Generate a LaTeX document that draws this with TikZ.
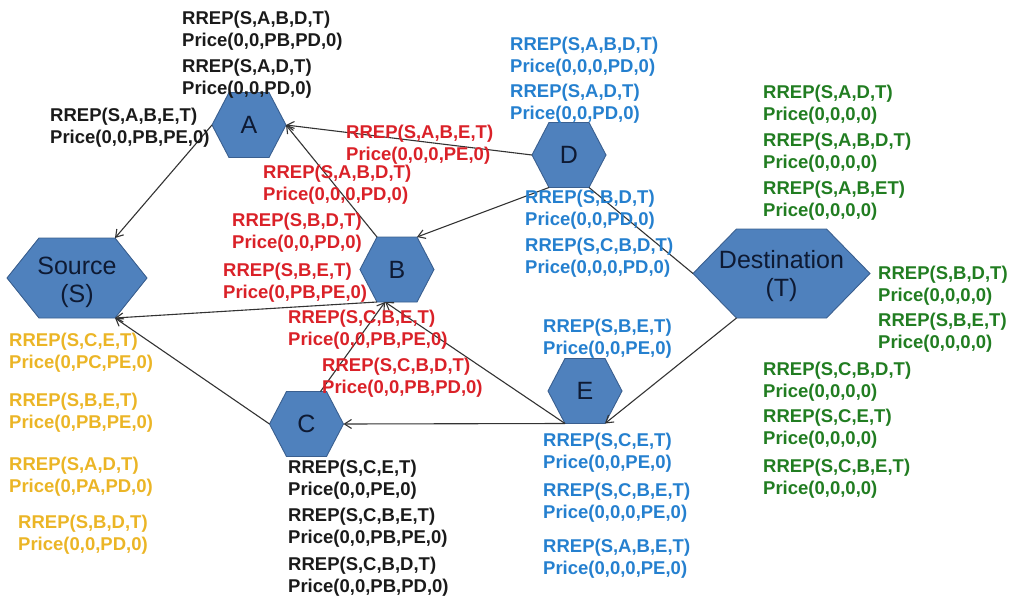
\documentclass[tikz,border=0pt]{standalone}
\usepackage{fontspec}
\setmainfont{Liberation Sans}
\usetikzlibrary{arrows.meta,calc}
\definecolor{hexblue}{HTML}{4F81BD}
\definecolor{hexedge}{HTML}{3A5F8F}
\definecolor{hexink}{HTML}{0E1A33}
\definecolor{msgblack}{HTML}{1A1A1A}
\definecolor{msgblue}{HTML}{2580CF}
\definecolor{msgred}{HTML}{DA2128}
\definecolor{msggold}{HTML}{EBB526}
\definecolor{msggreen}{HTML}{217D21}
\definecolor{linkgray}{HTML}{333333}
\begin{document}
\begin{tikzpicture}[x=1pt,y=-1pt,
  hexbody/.style={fill=hexblue,draw=hexedge,line width=0.9pt,line join=miter},
  hexlabel/.style={inner sep=0pt,align=center,text=hexink,font=\fontsize{25}{28}\selectfont},
  msg/.style={anchor=north west,inner sep=0pt,align=left,font=\bfseries\fontsize{18.5}{21.5}\selectfont},
  link/.style={draw=linkgray,line width=1.1pt,-{Straight Barb[length=7pt,width=9pt]}},
  plainlink/.style={draw=linkgray,line width=1.1pt},
  % half width / half height / corner inset / label / label drop
  pics/hexa/.style n args={5}{code={
    \path[hexbody] (-#1,0) coordinate (-w)
      -- (-#1+#3,-#2) coordinate (-nw)
      -- (#1-#3,-#2) coordinate (-ne)
      -- (#1,0) coordinate (-e)
      -- (#1-#3,#2) coordinate (-se)
      -- (-#1+#3,#2) coordinate (-sw) -- cycle;
    \node[hexlabel] (-c) at (0,#5) {#4};
  }}
]
\useasboundingbox (0,0) rectangle (1010,597);

% network nodes
\pic (A) at (249,125)   {hexa={37}{32.5}{17}{A}{0}};
\pic (D) at (569,155)   {hexa={37}{32.5}{17}{D}{0}};
\pic (B) at (397,269.5) {hexa={37}{32.5}{17}{B}{0}};
\pic (C) at (306.5,424) {hexa={37}{32.5}{17}{C}{0}};
\pic (E) at (585,391)   {hexa={37}{32.5}{17}{E}{0}};
\pic (S) at (77,278)    {hexa={70}{40}{32}{Source\\(S)}{4}};
\pic (T) at (781.5,273.5) {hexa={88.5}{44.5}{43.5}{Destination\\(T)}{3}};

% reply paths back towards the source
\coordinate (B-in) at ($(B-sw)!0.2!(B-se)$);
\coordinate (C-out) at ($(C-nw)!0.85!(C-ne)$);
\draw[link] (A-w) -- (S-ne);
\draw[link] (D-w) -- (A-e);
\draw[link] (B-nw) -- (A-e);
\draw[link] (D-sw) -- (B-ne);
\draw[plainlink] (T-w) -- (D-se);
\draw[link] (B-sw) -- (S-se);
\draw[link] (C-w) -- (S-se);
\draw[link] (C-out) -- (B-in);
\draw[link] (E-sw) -- (B-in);
\draw[link] (E-sw) -- (C-e);
\draw[link] (T-sw) -- (E-se);

% messages at A
\node[msg,text=msgblack] (m1) at (182,11) {RREP(S,A,B,D,T)\\Price(0,0,PB,PD,0)};
\node[msg,text=msgblack] (m2) at (182,59) {RREP(S,A,D,T)\\Price(0,0,PD,0)};
\node[msg,text=msgblack] (m3) at (50,108) {RREP(S,A,B,E,T)\\Price(0,0,PB,PE,0)};

% messages at D
\node[msg,text=msgblue] (m4) at (510,37) {RREP(S,A,B,D,T)\\Price(0,0,0,PD,0)};
\node[msg,text=msgblue] (m5) at (510,84) {RREP(S,A,D,T)\\Price(0,0,PD,0)};
\node[msg,text=msgblue] (m19) at (525,190) {RREP(S,B,D,T)\\Price(0,0,PD,0)};
\node[msg,text=msgblue] (m20) at (525,238) {RREP(S,C,B,D,T)\\Price(0,0,0,PD,0)};

% messages at B
\node[msg,text=msgred] (m6) at (346,125) {RREP(S,A,B,E,T)\\Price(0,0,0,PE,0)};
\node[msg,text=msgred] (m7) at (263,165) {RREP(S,A,B,D,T)\\Price(0,0,0,PD,0)};
\node[msg,text=msgred] (m8) at (232,213) {RREP(S,B,D,T)\\Price(0,0,PD,0)};
\node[msg,text=msgred] (m9) at (223,263) {RREP(S,B,E,T)\\Price(0,PB,PE,0)};
\node[msg,text=msgred] (m10) at (288,310) {RREP(S,C,B,E,T)\\Price(0,0,PB,PE,0)};
\node[msg,text=msgred] (m11) at (322,358) {RREP(S,C,B,D,T)\\Price(0,0,PB,PD,0)};

% messages at the source
\node[msg,text=msggold] (m12) at (9,333) {RREP(S,C,E,T)\\Price(0,PC,PE,0)};
\node[msg,text=msggold] (m13) at (9,393) {RREP(S,B,E,T)\\Price(0,PB,PE,0)};
\node[msg,text=msggold] (m14) at (9,457) {RREP(S,A,D,T)\\Price(0,PA,PD,0)};
\node[msg,text=msggold] (m15) at (18,515) {RREP(S,B,D,T)\\Price(0,0,PD,0)};

% messages at C
\node[msg,text=msgblack] (m16) at (288,460) {RREP(S,C,E,T)\\Price(0,0,PE,0)};
\node[msg,text=msgblack] (m17) at (288,508) {RREP(S,C,B,E,T)\\Price(0,0,PB,PE,0)};
\node[msg,text=msgblack] (m18) at (288,557) {RREP(S,C,B,D,T)\\Price(0,0,PB,PD,0)};

% messages at E
\node[msg,text=msgblue] (m21) at (543,319) {RREP(S,B,E,T)\\Price(0,0,PE,0)};
\node[msg,text=msgblue] (m22) at (543,433) {RREP(S,C,E,T)\\Price(0,0,PE,0)};
\node[msg,text=msgblue] (m23) at (543,483) {RREP(S,C,B,E,T)\\Price(0,0,0,PE,0)};
\node[msg,text=msgblue] (m24) at (543,539) {RREP(S,A,B,E,T)\\Price(0,0,0,PE,0)};

% messages at the destination
\node[msg,text=msggreen] (m25) at (763,85) {RREP(S,A,D,T)\\Price(0,0,0,0)};
\node[msg,text=msggreen] (m26) at (763,133) {RREP(S,A,B,D,T)\\Price(0,0,0,0)};
\node[msg,text=msggreen] (m27) at (763,181) {RREP(S,A,B,ET)\\Price(0,0,0,0)};
\node[msg,text=msggreen] (m28) at (878,266) {RREP(S,B,D,T)\\Price(0,0,0,0)};
\node[msg,text=msggreen] (m29) at (878,313) {RREP(S,B,E,T)\\Price(0,0,0,0)};
\node[msg,text=msggreen] (m30) at (763,362) {RREP(S,C,B,D,T)\\Price(0,0,0,0)};
\node[msg,text=msggreen] (m31) at (763,409) {RREP(S,C,E,T)\\Price(0,0,0,0)};
\node[msg,text=msggreen] (m32) at (763,459) {RREP(S,C,B,E,T)\\Price(0,0,0,0)};
\end{tikzpicture}
\end{document}
